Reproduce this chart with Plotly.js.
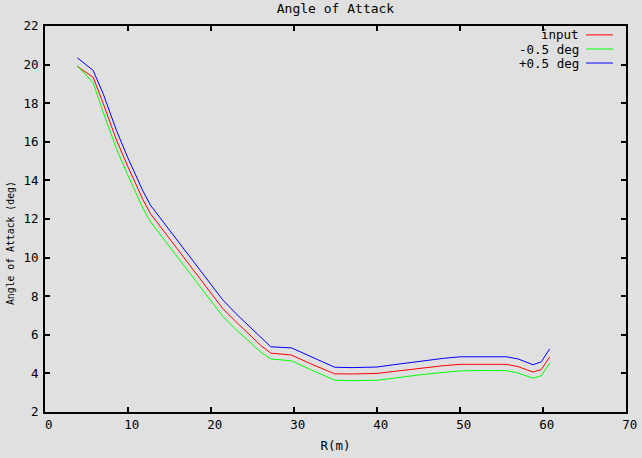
<!DOCTYPE html>
<html><head><meta charset="utf-8">
<script src="https://cdn.plot.ly/plotly-3.0.1.min.js"></script>
<style>html,body{margin:0;padding:0;background:#e0e0e0}</style>
</head><body><div id="chart" style="width:642px;height:458px"></div>
<script>
// Radius along blade (m)
const radius = [3.9, 5.8, 7, 8.6, 10, 11.8, 12.7, 15, 17, 19, 21.4, 23, 25, 26, 27.2, 29.7, 32, 34.9, 37, 40, 42, 45, 48, 50, 53, 55.6, 57, 58.8, 59.8, 60.8];
// Angle of attack (deg)
const aoaInput = [19.9, 19.35, 18.0, 16.1, 14.7, 13.0, 12.28, 10.98, 9.85, 8.72, 7.37, 6.68, 5.85, 5.45, 5.05, 4.95, 4.5, 3.98, 3.97, 4.0, 4.1, 4.26, 4.4, 4.47, 4.48, 4.47, 4.35, 4.07, 4.2, 4.85];
const aoaMinus = [19.95, 19.05, 17.55, 15.65, 14.25, 12.55, 11.86, 10.56, 9.43, 8.3, 6.97, 6.28, 5.48, 5.1, 4.75, 4.65, 4.2, 3.65, 3.62, 3.65, 3.75, 3.92, 4.05, 4.13, 4.15, 4.14, 4.02, 3.75, 3.88, 4.52];
const aoaPlus = [20.35, 19.7, 18.5, 16.6, 15.15, 13.45, 12.72, 11.42, 10.3, 9.17, 7.82, 7.1, 6.27, 5.85, 5.38, 5.32, 4.88, 4.32, 4.3, 4.33, 4.45, 4.63, 4.78, 4.86, 4.87, 4.86, 4.75, 4.45, 4.6, 5.27];
const seriesNames = ['input', '-0.5 deg', '+0.5 deg'];
const seriesColors = ['#ff0000', '#00ff00', '#0000ff'];
const xTicks = [0, 10, 20, 30, 40, 50, 60, 70];
const yTicks = [2, 4, 6, 8, 10, 12, 14, 16, 18, 20, 22];

const FONT = 'DejaVu Sans Mono, Liberation Mono, monospace';
const seriesValues = [aoaInput, aoaMinus, aoaPlus];
const traces = seriesValues.map((v, i) => ({
  x: radius, y: v, type: 'scatter', mode: 'lines', name: seriesNames[i],
  line: {color: seriesColors[i], width: 1}, showlegend: false
}));

// Legend drawn gnuplot-style: text right-aligned, sample line to the right
const legendY = [0.977, 0.9404, 0.9041];
const annotations = seriesNames.map((n, i) => ({
  text: n, xref: 'paper', yref: 'paper', x: 0.9225, y: legendY[i],
  xanchor: 'right', yanchor: 'middle', showarrow: false,
  font: {family: FONT, size: 12.5, color: '#000'}
}));
// y-axis title (gnuplot places it slightly below centre, in a smaller rotated font)
annotations.push({
  text: 'Angle of Attack (deg)', xref: 'paper', yref: 'paper', x: -0.0602, y: 0.4378,
  xanchor: 'center', yanchor: 'middle', textangle: -90, showarrow: false,
  font: {family: FONT, size: 9.8, color: '#000'}
});
const shapes = seriesNames.map((n, i) => ({
  type: 'line', xref: 'paper', yref: 'paper', x0: 0.9312, x1: 0.9776,
  y0: legendY[i], y1: legendY[i], line: {color: seriesColors[i], width: 1}
}));

const axisCommon = {
  showline: true, linecolor: '#000', linewidth: 2, mirror: 'allticks',
  ticks: 'inside', ticklen: 5, tickwidth: 2, tickcolor: '#000',
  showgrid: false, zeroline: false,
  tickfont: {family: FONT, size: 12.5, color: '#000'}
};

const layout = {
  width: 642, height: 458,
  margin: {l: 45, r: 16, t: 26, b: 46},
  paper_bgcolor: '#e0e0e0', plot_bgcolor: '#e0e0e0',
  title: {text: 'Angle of Attack', x: 0.5, xref: 'paper', y: 0.982, yref: 'container',
          yanchor: 'middle', font: {family: FONT, size: 13, color: '#000'}},
  xaxis: Object.assign({}, axisCommon, {
    range: [0, 70], tickvals: xTicks, ticktext: xTicks.map(t => '\u00a0' + t),
    title: {text: 'R(m)', standoff: 10, font: {family: FONT, size: 12.5, color: '#000'}}
  }),
  yaxis: Object.assign({}, axisCommon, {
    range: [2, 22], tickvals: yTicks, ticktext: yTicks.map(String), ticklabelstandoff: 2
  }),
  annotations: annotations, shapes: shapes, showlegend: false
};

Plotly.newPlot('chart', traces, layout, {staticPlot: true, displayModeBar: false});
</script></body></html>
